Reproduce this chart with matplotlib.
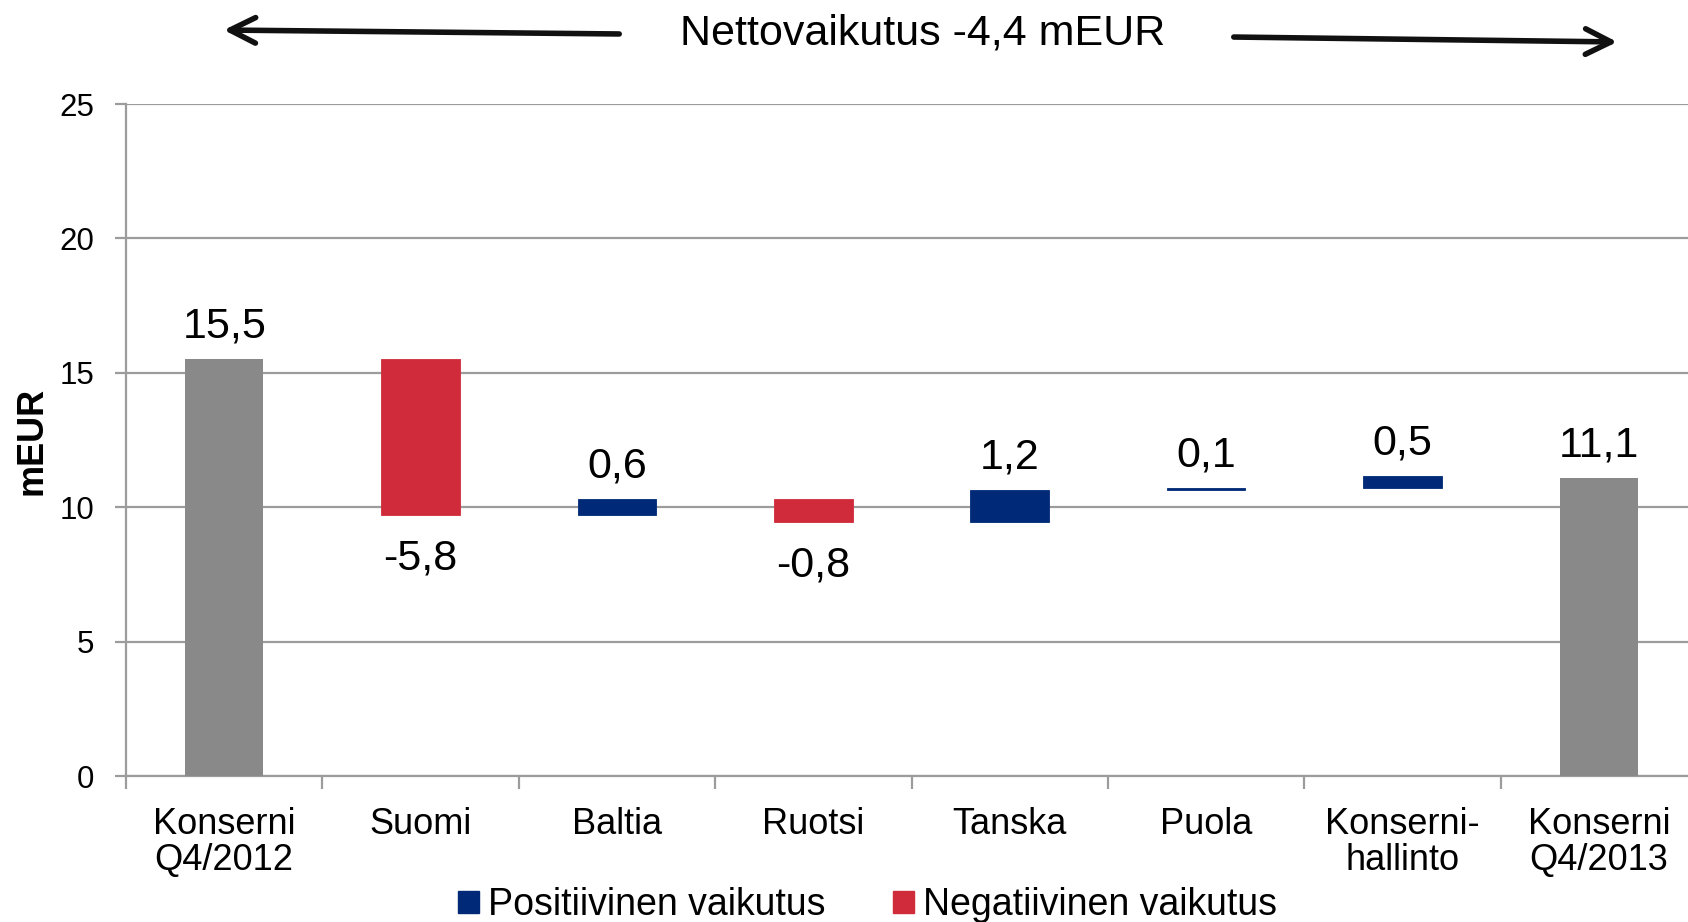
import matplotlib
matplotlib.use('Agg')
import matplotlib.pyplot as plt
import numpy as np
from matplotlib.patches import Patch

plt.rcParams['font.family'] = ['Liberation Sans', 'DejaVu Sans']

gray = '#898989'
red = '#D02B3A'
blue = '#002A78'
grid_gray = '#9C9C9C'

# data
categories = ['Konserni\nQ4/2012', 'Suomi', 'Baltia', 'Ruotsi', 'Tanska',
              'Puola', 'Konserni-\nhallinto', 'Konserni\nQ4/2013']
start_value = 15.5
end_value = 11.1
changes = [-5.8, 0.6, -0.85, 1.2, 0.05, 0.45]   # bar sizes as drawn
shown_values = [15.5, -5.8, 0.6, -0.8, 1.2, 0.1, 0.5, 11.1]  # printed labels
legend_labels = ['Positiivinen vaikutus', 'Negatiivinen vaikutus']
title = 'Nettovaikutus -4,4 mEUR'

W, H = 1688, 922
fig = plt.figure(figsize=(W / 100, H / 100), dpi=100)
ax = fig.add_axes([126 / W, 1 - 776 / H, 1571 / W, 672 / H])

x = np.arange(len(categories))
bw = 0.4

# running totals for the floating bars
level = start_value
bottoms, heights, colors = [], [], []
for c in changes:
    bottoms.append(min(level, level + c))
    heights.append(abs(c))
    colors.append(blue if c > 0 else red)
    level += c

ax.bar(x[0], start_value, width=bw, color=gray, zorder=3)
ax.bar(x[-1], end_value, width=bw, color=gray, zorder=3)
ax.bar(x[1:-1], heights, bottom=bottoms, width=bw, color=colors,
       edgecolor=colors, linewidth=0.6, zorder=3)

def fmt(v):
    return ('%.1f' % v).replace('.', ',')

tops = [start_value] + [b + h for b, h in zip(bottoms, heights)] + [end_value]
lows = [0] + bottoms + [0]
for i, v in enumerate(shown_values):
    if v >= 0:
        ax.annotate(fmt(v), (x[i], tops[i]), xytext=(0, 9), textcoords='offset points',
                    ha='center', va='bottom', fontsize=31)
    else:
        ax.annotate(fmt(v), (x[i], lows[i]), xytext=(0, -17), textcoords='offset points',
                    ha='center', va='top', fontsize=31)

ax.set_xlim(-0.5, 7.5)
ax.set_ylim(0, 25)
ax.set_yticks(range(0, 26, 5))
ax.yaxis.grid(True, color=grid_gray, linewidth=1.6)
ax.set_axisbelow(True)

for s in ['top', 'right']:
    ax.spines[s].set_visible(False)
for s in ['left', 'bottom']:
    ax.spines[s].set_color(grid_gray)
    ax.spines[s].set_linewidth(1.6)

ax.set_xticks(x)
ax.set_xticklabels(categories, fontsize=26, linespacing=1.05)
ax.set_xticks(np.arange(-0.5, 8, 1), minor=True)
ax.tick_params(axis='x', which='major', length=0, pad=22)
ax.tick_params(axis='x', which='minor', length=9, width=1.6, color=grid_gray)
ax.tick_params(axis='y', length=8, width=1.6, color=grid_gray, pad=15, labelsize=22.5)

fig.text(32 / W, 1 - 441 / H, 'mEUR', rotation=90, ha='center', va='center',
         fontsize=26, fontweight='bold')

# title with arrows on both sides
fig.text(923 / W, 1 - 33 / H, title, ha='center', va='center', fontsize=31)
arrow = dict(arrowstyle='->', lw=4, color='#111111', mutation_scale=46)
ax.annotate('', xy=(221 / W, 1 - 30 / H), xytext=(622 / W, 1 - 34 / H),
            xycoords='figure fraction', textcoords='figure fraction', arrowprops=arrow)
ax.annotate('', xy=(1620 / W, 1 - 42 / H), xytext=(1231 / W, 1 - 37 / H),
            xycoords='figure fraction', textcoords='figure fraction', arrowprops=arrow)

handles = [Patch(color=blue), Patch(color=red)]
fig.legend(handles, legend_labels, loc='center', bbox_to_anchor=(0.514, 0.018),
           ncol=2, frameon=False, fontsize=27, handlelength=0.55, handleheight=0.55,
           handletextpad=0.25, columnspacing=1.8, borderaxespad=0, borderpad=0)

fig.savefig('out.png', dpi=100)
